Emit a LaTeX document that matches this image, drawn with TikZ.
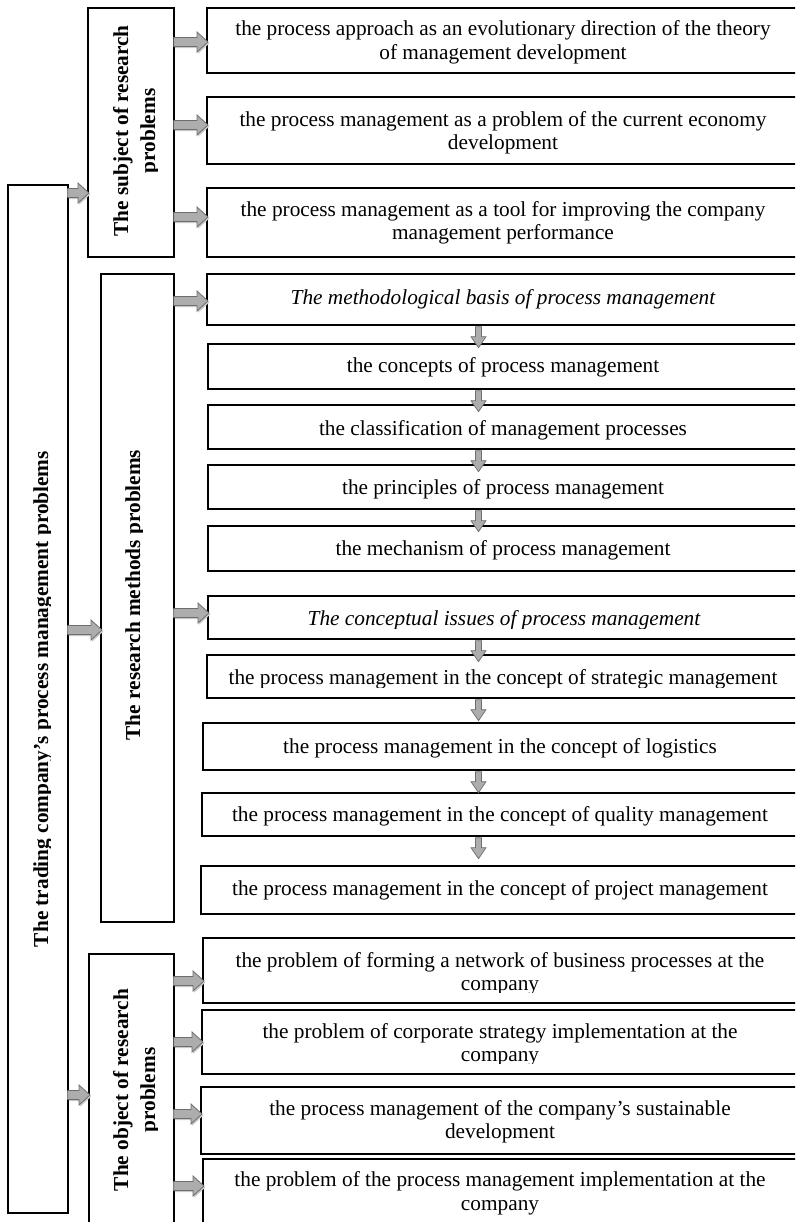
\documentclass[tikz,border=0pt]{standalone}
\usepackage{fontspec}
\setmainfont{Liberation Serif}
\usetikzlibrary{calc}

\definecolor{arrowedge}{HTML}{6E6E6E}
\definecolor{arrowlight}{HTML}{FAFAFA}
\definecolor{arrowdark}{HTML}{ADADAD}
\definecolor{arrowshadow}{HTML}{C8C8C8}

\tikzset{
  frame/.style={draw=black, line width=1.7pt, inner sep=0pt, anchor=north west},
  txt/.style={font=\fontsize{21.3}{24}\selectfont, inner sep=0pt, anchor=base},
  itxt/.style={txt, font=\fontsize{21.3}{24}\selectfont\itshape},
  vtxt/.style={font=\fontsize{21.3}{24}\selectfont\bfseries, inner sep=0pt,
    anchor=base, rotate=90},
  % horizontal block arrow: tail at the start point, tip just past the target
  harrow/.style={draw=arrowedge, line width=0.8pt,
    top color=arrowdark, middle color=arrowlight, bottom color=arrowdark,
    preaction={fill=arrowshadow, transform canvas={shift={(1.2pt,-1.6pt)}}},
    to path={let \p1=(\tikztostart), \p2=(\tikztotarget) in
      (\x1-1pt,\y1+4.5pt) -- (\x2-9pt,\y1+4.5pt) -- (\x2-9pt,\y1+10pt)
      -- (\x2+2pt,\y1) -- (\x2-9pt,\y1-10pt) -- (\x2-9pt,\y1-4.5pt)
      -- (\x1-1pt,\y1-4.5pt) -- cycle}},
  % small downward block arrow hanging below the start point
  varrow/.style={draw=arrowedge, line width=0.7pt,
    left color=arrowdark, middle color=arrowlight, right color=arrowdark,
    to path={let \p1=(\tikztostart) in
      (\x1-3pt,\y1-1pt) -- (\x1-3pt,\y1-11pt) -- (\x1-7.5pt,\y1-11pt)
      -- (\x1,\y1-22pt) -- (\x1+7.5pt,\y1-11pt) -- (\x1+3pt,\y1-11pt)
      -- (\x1+3pt,\y1-1pt) -- cycle}}
}

\begin{document}
\begin{tikzpicture}[x=1pt, y=-1pt]
\useasboundingbox (0,0) rectangle (795,1222);
\clip (0,0) rectangle (795,1222);

% ---------- frames ----------
\node[frame, minimum width=60pt, minimum height=1028pt] (main) at (7,184) {};

\node[frame, minimum width=86pt, minimum height=249pt] (subj) at (87,7) {};
\node[frame, minimum width=599pt, minimum height=65pt] (s1) at (206,7) {};
\node[frame, minimum width=599pt, minimum height=67pt] (s2) at (206,96) {};
\node[frame, minimum width=599pt, minimum height=69pt] (s3) at (206,187) {};

\node[frame, minimum width=73pt, minimum height=648pt] (rm) at (100,273) {};
\node[frame, minimum width=599pt, minimum height=51pt] (m1) at (206,273) {};
\node[frame, minimum width=598pt, minimum height=45pt] (m2) at (207,343) {};
\node[frame, minimum width=598pt, minimum height=44pt] (m3) at (207,404) {};
\node[frame, minimum width=598pt, minimum height=44pt] (m4) at (207,464) {};
\node[frame, minimum width=598pt, minimum height=45pt] (m5) at (207,525) {};
\node[frame, minimum width=598pt, minimum height=43pt] (c1) at (207,595) {};
\node[frame, minimum width=599pt, minimum height=43pt] (c2) at (206,654) {};
\node[frame, minimum width=603pt, minimum height=47pt] (c3) at (202,722) {};
\node[frame, minimum width=604pt, minimum height=43pt] (c4) at (201,792) {};
\node[frame, minimum width=605pt, minimum height=48pt] (c5) at (200,865) {};

\node[frame, minimum width=85pt, minimum height=287pt] (obj) at (88,953) {};
\node[frame, minimum width=603pt, minimum height=65pt] (o1) at (202,937) {};
\node[frame, minimum width=604pt, minimum height=64pt] (o2) at (201,1009) {};
\node[frame, minimum width=605pt, minimum height=67pt] (o3) at (200,1086) {};
\node[frame, minimum width=603pt, minimum height=82pt] (o4) at (202,1158) {};

% ---------- vertical headings ----------
\begin{scope}
  \clip (7,184) rectangle (50.5,1212);
  \node[vtxt] (mainT) at (48,699) {The trading company’s process management problems};
\end{scope}
\begin{scope}
  \clip (87,7) rectangle (157,256);
  \node[vtxt] (subjA) at (128,131) {The subject of research};
  \node[vtxt] (subjB) at (155,131) {problems};
\end{scope}
\begin{scope}
  \clip (100,273) rectangle (142.5,921);
  \node[vtxt] (rmT) at (140,595) {The research methods problems};
\end{scope}
\begin{scope}
  \clip (88,953) rectangle (157,1222);
  \node[vtxt] (objA) at (128,1090) {The object of research};
  \node[vtxt] (objB) at (155,1090) {problems};
\end{scope}

% ---------- subject of research ----------
\node[txt] (s1a) at (503,36) {the process approach as an evolutionary direction of the theory};
\begin{scope}
  \clip (206,40) rectangle (805,63.5);
  \node[txt] (s1b) at (503,60) {of management development};
\end{scope}
\node[txt] (s2a) at (503,126.7) {the process management as a problem of the current economy};
\node[txt] (s2b) at (503,150) {development};
\node[txt] (s3a) at (503,216.7) {the process management as a tool for improving the company};
\node[txt] (s3b) at (503,240) {management performance};

% ---------- research methods ----------
\node[itxt] (m1t) at (503,305) {The methodological basis of process management};
\node[txt] (m2t) at (503,372.7) {the concepts of process management};
\node[txt] (m3t) at (503,435) {the classification of management processes};
\node[txt] (m4t) at (503,494) {the principles of process management};
\node[txt] (m5t) at (503,555) {the mechanism of process management};
\begin{scope}
  \clip (207,595) rectangle (805,628);
  \node[itxt] (c1t) at (504,625) {The conceptual issues of process management};
\end{scope}
\begin{scope}
  \clip (206,654) rectangle (805,687.5);
  \node[txt] (c2t) at (503,684) {the process management in the concept of strategic management};
\end{scope}
\node[txt] (c3t) at (500,753) {the process management in the concept of logistics};
\begin{scope}
  \clip (201,792) rectangle (805,825);
  \node[txt] (c4t) at (500,821) {the process management in the concept of quality management};
\end{scope}
\node[txt] (c5t) at (500,895) {the process management in the concept of project management};

% ---------- object of research ----------
\node[txt] (o1a) at (500,967) {the problem of forming a network of business processes at the};
\begin{scope}
  \clip (202,975) rectangle (805,992.5);
  \node[txt] (o1b) at (500,990) {company};
\end{scope}
\node[txt] (o2a) at (500,1038) {the problem of corporate strategy implementation at the};
\begin{scope}
  \clip (201,1045) rectangle (805,1063.5);
  \node[txt] (o2b) at (500,1061.7) {company};
\end{scope}
\node[txt] (o3a) at (500,1115.7) {the process management of the company’s sustainable};
\node[txt] (o3b) at (500,1138) {development};
\node[txt] (o4a) at (500,1186.7) {the problem of the process management implementation at the};
\node[txt] (o4b) at (500,1210) {company};

% ---------- arrow levels ----------
\coordinate (hSubj) at (0,193);
\coordinate (hRm) at (0,630);
\coordinate (hObj) at (0,1095);
\coordinate (hS1) at (0,42);
\coordinate (hS2) at (0,125);
\coordinate (hS3) at (0,217);
\coordinate (hM1) at (0,301);
\coordinate (hC1) at (0,613);
\coordinate (hO1) at (0,981);
\coordinate (hO2) at (0,1042);
\coordinate (hO3) at (0,1114);
\coordinate (hO4) at (0,1186);
\coordinate (dx) at (478.5,0);

% ---------- horizontal arrows ----------
\path[harrow] (main.east |- hSubj) to (subj.west |- hSubj);
\path[harrow] (main.east |- hRm) to (rm.west |- hRm);
\path[harrow] (main.east |- hObj) to (obj.west |- hObj);

\path[harrow] (subj.east |- hS1) to (s1.west |- hS1);
\path[harrow] (subj.east |- hS2) to (s2.west |- hS2);
\path[harrow] (subj.east |- hS3) to (s3.west |- hS3);

\path[harrow] (rm.east |- hM1) to (m1.west |- hM1);
\path[harrow] (rm.east |- hC1) to (c1.west |- hC1);

\path[harrow] (obj.east |- hO1) to (o1.west |- hO1);
\path[harrow] (obj.east |- hO2) to (o2.west |- hO2);
\path[harrow] (obj.east |- hO3) to (o3.west |- hO3);
\path[harrow] (obj.east |- hO4) to (o4.west |- hO4);

% ---------- vertical arrows ----------
\path[varrow] (m1.south -| dx) to (m2.north -| dx);
\path[varrow] (m2.south -| dx) to (m3.north -| dx);
\path[varrow] (m3.south -| dx) to (m4.north -| dx);
\path[varrow] (m4.south -| dx) to (m5.north -| dx);
\path[varrow] (c1.south -| dx) to (c2.north -| dx);
\path[varrow] (c2.south -| dx) to (c3.north -| dx);
\path[varrow] (c3.south -| dx) to (c4.north -| dx);
\path[varrow] (c4.south -| dx) to (c5.north -| dx);
\end{tikzpicture}
\end{document}
